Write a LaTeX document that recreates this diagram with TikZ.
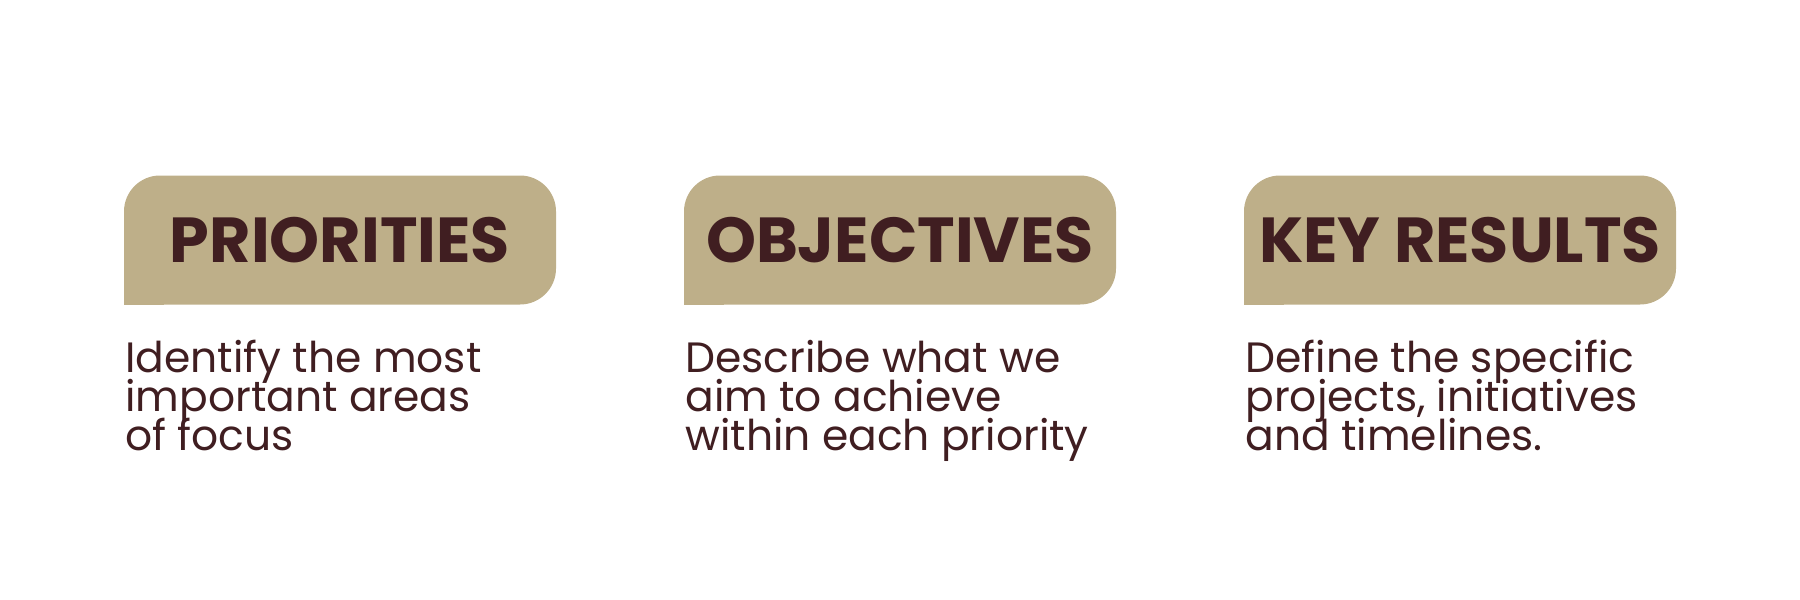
\documentclass[tikz,border=0pt]{standalone}
\usepackage{fontspec}
\setmainfont{Poppins}
\usepackage{tikz}
\usetikzlibrary{positioning}
\definecolor{tabtan}{HTML}{BEAF89}
\definecolor{inkbrown}{HTML}{401E21}
\newcommand\descfont{\fontsize{21.2}{19.4}\selectfont\setlength{\lineskiplimit}{-50pt}\relax}

\begin{document}
\begin{tikzpicture}[x=0.5pt,y=-0.5pt,
  tab/.style={fill=tabtan,rounded corners=18pt,minimum width=216pt,minimum height=64.5pt,inner sep=0pt,outer sep=0pt,text=inkbrown,font=\fontsize{31.8}{36}\selectfont\bfseries},
  desc/.style={anchor=base west,align=left,inner sep=0pt,text=inkbrown,font=\descfont}]
  \useasboundingbox (0,0) rectangle (1800,600);

  \node[tab] (prio) at (340,240) {PRIORITIES};
  \node[tab] (obj) at (900,240) {OBJECTIVES};
  \node[tab] (kr) at (1460,240) {KEY RESULTS};

  % square off the lower left corners
  \fill[tabtan] (prio.south west) rectangle ++(20pt,20pt);
  \fill[tabtan] (obj.south west) rectangle ++(20pt,20pt);
  \fill[tabtan] (kr.south west) rectangle ++(20pt,20pt);

  % base anchor sits on the last line
  \node[desc] (priotxt) at (125,450) {Identify the most\\important areas\\of focus};
  \node[desc] (objtxt) at (685,450) {Describe what we\\aim to achieve\\within each priority};
  \node[desc] (krtxt) at (1245,450) {Define the specific\\projects, initiatives\\and timelines.};
\end{tikzpicture}
\end{document}
